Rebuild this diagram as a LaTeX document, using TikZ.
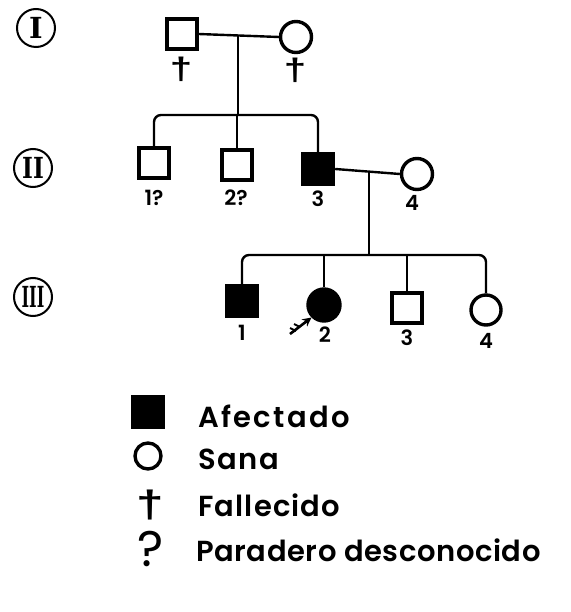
\documentclass[tikz,border=0pt]{standalone}
\usepackage{fontspec}
\setsansfont{Poppins}[BoldFont={Poppins SemiBold}]
\newfontfamily\symfont{Liberation Sans}
\newfontfamily\romfont{DejaVu Serif}
\usetikzlibrary{arrows.meta}
\begin{document}
\begin{tikzpicture}[x=1pt,y=-1pt,
  line width=2.4pt,
  male/.style={draw,line width=3.4pt,minimum size=#1,inner sep=0pt,rectangle},
  female/.style={draw,line width=3.4pt,minimum size=#1,inner sep=0pt,circle},
  gen/.style={draw,circle,line width=2pt,minimum size=38pt,inner sep=0pt,font=\romfont\bfseries\fontsize{29}{29}\selectfont},
  lab/.style={font=\sffamily\bfseries\fontsize{21}{21}\selectfont,inner sep=0pt},
  leg/.style={font=\sffamily\bfseries\fontsize{29}{29}\selectfont,inner sep=0pt,anchor=base west},
  sym/.style={font=\symfont\bfseries\fontsize{31}{31}\selectfont,inner sep=0pt},
  sib/.style={rounded corners=7pt}]
\useasboundingbox (0,0) rectangle (570,612);
% generation markers
\node[gen] (g1) at (36,28) {I};
\node[gen] (g2) at (33,168) {\scalebox{0.8}[1]{II}};
\node[gen] (g3) at (33,297) {\scalebox{0.56}[1]{III}};
% generation I
\node[male=30pt] (a1) at (182,34) {};
\node[female=31pt] (a2) at (296,37) {};
\draw (a1.east) -- (a2.west);
\coordinate (m1) at (238,35.5);
\node[sym] (d1) at (181,69) {\scalebox{1.3}[1]{†}};
\node[sym] (d2) at (295,70) {\scalebox{1.3}[1]{†}};
% generation II
\node[male=30pt] (b1) at (154,163) {};
\node[male=30pt] (b2) at (237,165) {};
\node[male=31pt,fill=black] (b3) at (318,169) {};
\node[female=31pt] (b4) at (417,174) {};
\coordinate (s1) at (238,115);
\draw (m1) -- (s1);
\draw[sib] (b1.north) |- (s1) -| (b3.north);
\draw (b2.north) -- (b2.north |- s1);
\node[lab] (lb1) at (154,198) {1?};
\node[lab] (lb2) at (236,198) {2?};
\node[lab] (lb3) at (318,199) {3};
\node[lab] (lb4) at (412,203) {4};
\draw (b3.east) -- (b4.west);
\coordinate (m2) at (369,171);
\coordinate (s2) at (369,255);
\draw (m2) -- (s2);
% generation III
\node[male=31pt,fill=black] (c1) at (242,301) {};
\node[female=32pt,fill=black] (c2) at (324,305) {};
\node[male=30pt] (c3) at (407,308) {};
\node[female=30pt] (c4) at (486,310) {};
\draw[sib] (c1.north) |- (s2) -| (c4.north);
\draw (c2.north) -- (c2.north |- s2);
\draw (c3.north) -- (c3.north |- s2);
\node[lab] (lc1) at (242,333) {1};
\node[lab] (lc2) at (325,335) {2};
\node[lab] (lc3) at (407,338) {3};
\node[lab] (lc4) at (486,341) {4};
\coordinate (pa) at (290,334);
\draw[line width=2.6pt,-{Stealth[length=9pt,width=9pt]}] (pa) -- (c2.225);
\draw[line width=2pt] (pa) ++(0,-6) -- ++(6,3) (pa) ++(4,-10) -- ++(6,3);
% legend
\node[male=30pt,fill=black] (k1) at (148,412) {};
\node[leg] (t1) at (197,427) {\addfontfeature{LetterSpace=8}Afectado};
\node[female=26pt] (k2) at (148,456) {};
\node[leg] (t2) at (197,469) {\addfontfeature{LetterSpace=6}Sana};
\node[sym,font=\symfont\bfseries\fontsize{38}{38}\selectfont] (k3) at (150,505) {\scalebox{1.3}[1]{†}};
\node[leg] (t3) at (197,516) {\addfontfeature{LetterSpace=4}Fallecido};
\node[sym,font=\sffamily\fontsize{50}{50}\selectfont] (k4) at (151,549) {?};
\node[leg] (t4) at (195,561) {\addfontfeature{LetterSpace=2}Paradero desconocido};
\end{tikzpicture}
\end{document}
